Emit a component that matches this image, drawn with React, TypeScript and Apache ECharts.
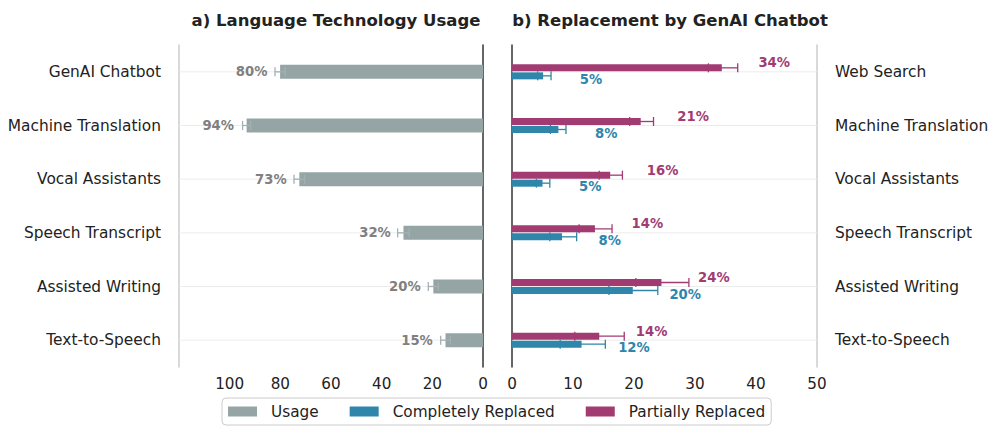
import React, { useEffect, useRef } from "react";
import * as echarts from "echarts";

const usageCategories = ["GenAI Chatbot", "Machine Translation", "Vocal Assistants", "Speech Transcript", "Assisted Writing", "Text-to-Speech"];
const replaceCategories = ["Web Search", "Machine Translation", "Vocal Assistants", "Speech Transcript", "Assisted Writing", "Text-to-Speech"];

const usageValues = [80.1, 93.3, 72.5, 31.4, 19.6, 14.8];
const usageErr = [2.0, 1.6, 2.1, 2.3, 2.0, 1.9];
const usageLabels = ["80%", "94%", "73%", "32%", "20%", "15%"];

const partialValues = [34.4, 21.1, 16.1, 13.6, 24.5, 14.3];
const partialLow = [32.2, 19.3, 14.3, 11.0, 20.3, 10.3];
const partialHigh = [37.0, 23.2, 18.1, 16.4, 29.0, 18.4];
const partialLabels = ["34%", "21%", "16%", "14%", "24%", "14%"];

const completeValues = [5.1, 7.6, 5.0, 8.2, 19.8, 11.4];
const completeLow = [4.2, 6.3, 4.0, 6.2, 15.9, 7.9];
const completeHigh = [6.4, 8.85, 6.2, 10.6, 23.9, 15.3];
const completeLabels = ["5%", "8%", "5%", "8%", "20%", "12%"];

const leftTicksMax = 120;
const rightTicksMax = 50;

const GRAY = "#95A5A6";
const BLUE = "#2E86AB";
const MAGENTA = "#A23B72";
const FONT = "DejaVu Sans";

function gridLineSeries(xIdx: number, yIdx: number, n: number) {
  return {
    type: "custom",
    xAxisIndex: xIdx,
    yAxisIndex: yIdx,
    silent: true,
    z: 1,
    data: Array.from({ length: n }, (_, i) => [0, i]),
    encode: { x: 0, y: 1 },
    renderItem: (params: any, api: any) => {
      const p = api.coord([0, api.value(1)]);
      const cs = params.coordSys;
      return {
        type: "line",
        shape: { x1: cs.x, y1: p[1], x2: cs.x + cs.width, y2: p[1] },
        style: { stroke: "#ececec", lineWidth: 1 },
      };
    },
  };
}

function errorSeries(xIdx: number, yIdx: number, lows: number[], highs: number[], dy: number, color: string) {
  return {
    type: "custom",
    xAxisIndex: xIdx,
    yAxisIndex: yIdx,
    silent: true,
    z: 3,
    data: lows.map((l, i) => [l, highs[i], i]),
    encode: { x: [0, 1], y: 2 },
    renderItem: (params: any, api: any) => {
      const a = api.coord([api.value(0), api.value(2)]);
      const b = api.coord([api.value(1), api.value(2)]);
      const y = a[1] + dy;
      const h = 4.5;
      const st = { stroke: color, lineWidth: 1.3 };
      return {
        type: "group",
        children: [
          { type: "line", shape: { x1: a[0], y1: y, x2: b[0], y2: y }, style: st },
          { type: "line", shape: { x1: a[0], y1: y - h, x2: a[0], y2: y + h }, style: st },
          { type: "line", shape: { x1: b[0], y1: y - h, x2: b[0], y2: y + h }, style: st },
        ],
      };
    },
  };
}

function labelSeries(
  xIdx: number,
  yIdx: number,
  values: number[],
  shift: number,
  labels: string[],
  dy: number,
  align: string,
  color: string
) {
  return {
    type: "custom",
    xAxisIndex: xIdx,
    yAxisIndex: yIdx,
    silent: true,
    z: 4,
    data: values.map((v, i) => [v + shift, i]),
    encode: { x: 0, y: 1 },
    renderItem: (params: any, api: any) => {
      const p = api.coord([api.value(0), api.value(1)]);
      return {
        type: "text",
        x: p[0],
        y: p[1] + dy,
        style: {
          text: labels[params.dataIndex],
          align,
          verticalAlign: "middle",
          fill: color,
          font: `bold 13.2px "${FONT}"`,
        },
      };
    },
  };
}

export default function App() {
  const ref = useRef<HTMLDivElement>(null);
  useEffect(() => {
    document.body.style.margin = "0";
    const chart = echarts.init(ref.current!, null, { renderer: "svg" });
    const catAxisLabel = { fontSize: 15.4, color: "#222", fontFamily: FONT, margin: 18 };
    const option: any = {
      animation: false,
      textStyle: { fontFamily: FONT },
      title: [
        {
          text: "a) Language Technology Usage",
          left: 331,
          top: 7,
          textAlign: "center",
          textStyle: { fontSize: 16.5, fontWeight: "bold", color: "#222", fontFamily: FONT },
        },
        {
          text: "b) Replacement by GenAI Chatbot",
          left: 665,
          top: 7,
          textAlign: "center",
          textStyle: { fontSize: 16.5, fontWeight: "bold", color: "#222", fontFamily: FONT },
        },
      ],
      legend: {
        data: ["Usage", "Completely Replaced", "Partially Replaced"],
        left: 222,
        top: 398,
        itemWidth: 29,
        itemHeight: 10,
        itemGap: 31,
        icon: "rect",
        padding: [6, 6, 6, 6],
        borderColor: "#cccccc",
        borderWidth: 1,
        borderRadius: 4,
        textStyle: { fontSize: 15.3, color: "#222", fontFamily: FONT, padding: [0, 0, 0, 9] },
      },
      grid: [
        { left: 179, right: 996 - 483, top: 45, bottom: 435 - 367, containLabel: false },
        { left: 512, right: 996 - 817, top: 45, bottom: 435 - 367, containLabel: false },
      ],
      xAxis: [
        {
          type: "value",
          gridIndex: 0,
          inverse: true,
          min: 0,
          max: leftTicksMax,
          interval: 20,
          axisLine: { show: false },
          axisTick: { show: false },
          splitLine: { show: false },
          axisLabel: {
            fontSize: 15.2,
            color: "#222",
            margin: 9,
            formatter: (v: number) => (v > 100 ? "" : String(v)),
          },
        },
        {
          type: "value",
          gridIndex: 1,
          min: 0,
          max: rightTicksMax,
          interval: 10,
          axisLine: { show: false },
          axisTick: { show: false },
          splitLine: { show: false },
          axisLabel: { fontSize: 15.2, color: "#222", margin: 9 },
        },
      ],
      yAxis: [
        {
          type: "category",
          gridIndex: 0,
          inverse: true,
          position: "left",
          data: usageCategories,
          axisLine: { onZero: false, lineStyle: { color: "#cccccc", width: 1.5 } },
          axisTick: { show: false },
          axisLabel: catAxisLabel,
        },
        {
          type: "category",
          gridIndex: 0,
          inverse: true,
          position: "right",
          data: usageCategories,
          axisLine: { onZero: false, lineStyle: { color: "#333333", width: 1.5 } },
          axisTick: { show: false },
          axisLabel: { show: false },
        },
        {
          type: "category",
          gridIndex: 1,
          inverse: true,
          position: "right",
          data: replaceCategories,
          axisLine: { onZero: false, lineStyle: { color: "#cccccc", width: 1.5 } },
          axisTick: { show: false },
          axisLabel: catAxisLabel,
        },
        {
          type: "category",
          gridIndex: 1,
          inverse: true,
          position: "left",
          data: replaceCategories,
          axisLine: { onZero: false, lineStyle: { color: "#333333", width: 1.5 } },
          axisTick: { show: false },
          axisLabel: { show: false },
        },
      ],
      series: [
        gridLineSeries(0, 0, usageCategories.length),
        gridLineSeries(1, 2, replaceCategories.length),
        {
          name: "Usage",
          type: "bar",
          xAxisIndex: 0,
          yAxisIndex: 0,
          barWidth: 14,
          itemStyle: { color: GRAY },
          data: usageValues,
          z: 2,
        },
        {
          name: "Partially Replaced",
          type: "bar",
          xAxisIndex: 1,
          yAxisIndex: 2,
          barWidth: 7,
          barGap: "15%",
          itemStyle: { color: MAGENTA },
          data: partialValues,
          z: 2,
        },
        {
          name: "Completely Replaced",
          type: "bar",
          xAxisIndex: 1,
          yAxisIndex: 2,
          barWidth: 7,
          barGap: "15%",
          itemStyle: { color: BLUE },
          data: completeValues,
          z: 2,
        },
        errorSeries(
          0,
          0,
          usageValues.map((v, i) => v - usageErr[i]),
          usageValues.map((v, i) => v + usageErr[i]),
          0,
          "#a3b1b2"
        ),
        errorSeries(1, 2, partialLow, partialHigh, -4, MAGENTA),
        errorSeries(1, 2, completeLow, completeHigh, 4, BLUE),
        labelSeries(0, 0, usageValues, 5, usageLabels, 0, "right", "#808080"),
        labelSeries(1, 2, partialValues, 6, partialLabels, -9, "left", MAGENTA),
        labelSeries(1, 2, completeValues, 6, completeLabels, 7.5, "left", BLUE),
      ],
    };
    chart.setOption(option);
    return () => chart.dispose();
  }, []);
  return <div ref={ref} style={{ width: 996, height: 435 }} />;
}
